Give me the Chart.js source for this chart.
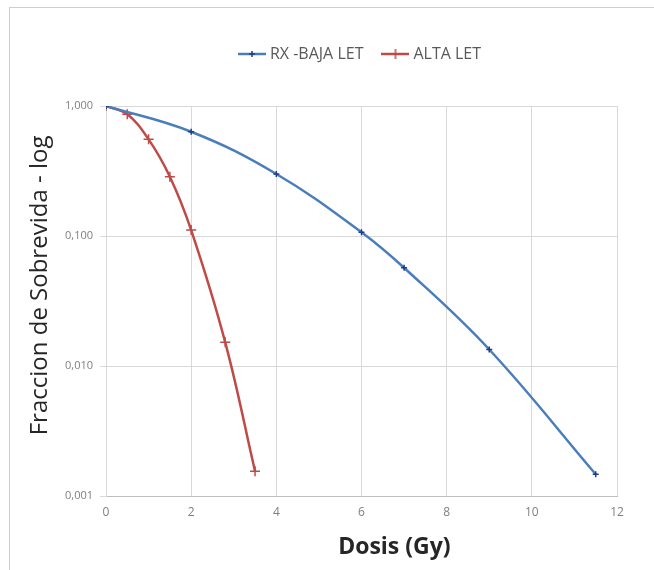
<!DOCTYPE html>
<html>
<head>
<meta charset="utf-8">
<script src="https://cdn.jsdelivr.net/npm/chart.js@4/dist/chart.umd.min.js"></script>
<style>
  html, body { margin: 0; padding: 0; background: #fff; }
  #wrap { width: 654px; height: 570px; }
</style>
</head>
<body>
<div id="wrap"><canvas id="chart" width="654" height="570"></canvas></div>
<script>
// dose (Gy) and surviving fraction
var doseRX  = [0, 2, 4, 6, 7, 9, 11.5];
var survRX  = [1.0, 0.634, 0.300, 0.107, 0.057, 0.0134, 0.00147];
var doseAlta = [0, 0.5, 1, 1.5, 2, 2.8, 3.5];
var survAlta = [1.0, 0.863, 0.554, 0.286, 0.111, 0.0152, 0.00155];
var seriesNames = ['RX -BAJA LET', 'ALTA LET'];
var yTicks = [0.001, 0.01, 0.1, 1];
var xMin = 0, xMax = 12, xStep = 2;

var BLUE = '#4a7ebb', BLUE_MK = '#1f3c88', RED = '#be4b48';

function toPoints(xs, ys){
    var out = [];
    for (var i = 0; i < xs.length; i++) out.push({x: xs[i], y: ys[i]});
    return out;
}

// little line+cross picture for the legend
function legendIcon(lineColor, markColor, r){
    var c = document.createElement('canvas');
    c.width = 28; c.height = 12;
    var g = c.getContext('2d');
    g.strokeStyle = lineColor; g.lineWidth = 2.5;
    g.beginPath(); g.moveTo(0, 6); g.lineTo(28, 6); g.stroke();
    g.strokeStyle = markColor; g.lineWidth = 1.5;
    g.beginPath(); g.moveTo(14 - r, 6); g.lineTo(14 + r, 6); g.moveTo(14, 6 - r); g.lineTo(14, 6 + r); g.stroke();
    return c;
}
var icons = [legendIcon(BLUE, BLUE_MK, 3), legendIcon(RED, RED, 5)];

var frame = {
    id: 'frame',
    beforeDraw: function(chart){
        var ctx = chart.ctx;
        ctx.save();
        ctx.strokeStyle = '#cfcfcf';
        ctx.lineWidth = 1;
        ctx.strokeRect(9.5, 7.5, 700, 700);
        ctx.restore();
    }
};

var ctx = document.getElementById('chart');
var chart = new Chart(ctx, {
    type: 'line',
    data: {
        datasets: [{
            label: seriesNames[0],
            data: toPoints(doseRX, survRX),
            borderColor: BLUE,
            backgroundColor: BLUE_MK,
            borderWidth: 2.5,
            tension: 0.4,
            pointStyle: 'cross',
            pointRadius: 3,
            pointBorderColor: BLUE_MK,
            pointBorderWidth: 1.5
        }, {
            label: seriesNames[1],
            data: toPoints(doseAlta, survAlta),
            borderColor: RED,
            backgroundColor: RED,
            borderWidth: 2.5,
            tension: 0.4,
            pointStyle: 'cross',
            pointRadius: 5,
            pointBorderColor: RED,
            pointBorderWidth: 1.5
        }]
    },
    options: {
        responsive: false,
        animation: false,
        layout: { padding: { top: 24, left: 0, right: 37, bottom: 0 } },
        plugins: {
            legend: {
                position: 'top',
                fullSize: false,
                labels: {
                    usePointStyle: true,
                    pointStyleWidth: 20,
                    padding: 22,
                    color: '#595959',
                    font: { family: 'Open Sans', size: 16 },
                    generateLabels: function(ch){
                        return ch.data.datasets.map(function(ds, i){
                            return { text: ds.label, pointStyle: icons[i], datasetIndex: i, fontColor: '#595959', lineWidth: 0 };
                        });
                    }
                }
            },
            // empty title used only as a gap between legend and plot
            title: { display: true, text: '', weight: 500, fullSize: false, font: { size: 10 }, padding: { top: 0, bottom: 22 } },
            tooltip: { enabled: false }
        },
        scales: {
            x: {
                type: 'linear',
                min: xMin, max: xMax,
                ticks: { stepSize: xStep, padding: 9, color: '#7f7f7f', font: { family: 'Open Sans', size: 12 } },
                grid: { color: '#d9d9d9', drawTicks: false },
                border: { color: '#bfbfbf' },
                title: {
                    display: true,
                    text: '           Dosis (Gy)',
                    color: '#262626',
                    font: { family: 'Open Sans', size: 23, weight: 'bold' },
                    padding: { top: 0, bottom: 9 }
                },
                afterFit: function(s){ s.height = 74; }
            },
            y: {
                type: 'logarithmic',
                min: 0.001, max: 1,
                afterBuildTicks: function(s){ s.ticks = yTicks.map(function(v){ return {value: v}; }); },
                ticks: {
                    padding: 7,
                    color: '#7f7f7f',
                    font: { family: 'Open Sans', size: 11 },
                    callback: function(v){ return Number(v).toFixed(3).replace('.', ','); }
                },
                grid: { color: '#d9d9d9', tickLength: 6 },
                border: { color: '#d9d9d9' },
                title: {
                    display: true,
                    text: '     Fraccion de Sobrevida - log',
                    color: '#262626',
                    font: { family: 'Open Sans', size: 24 },
                    padding: { top: 26, bottom: 0 }
                },
                afterFit: function(s){ s.width = 106; }
            }
        }
    },
    plugins: [frame]
});
</script>
</body>
</html>
